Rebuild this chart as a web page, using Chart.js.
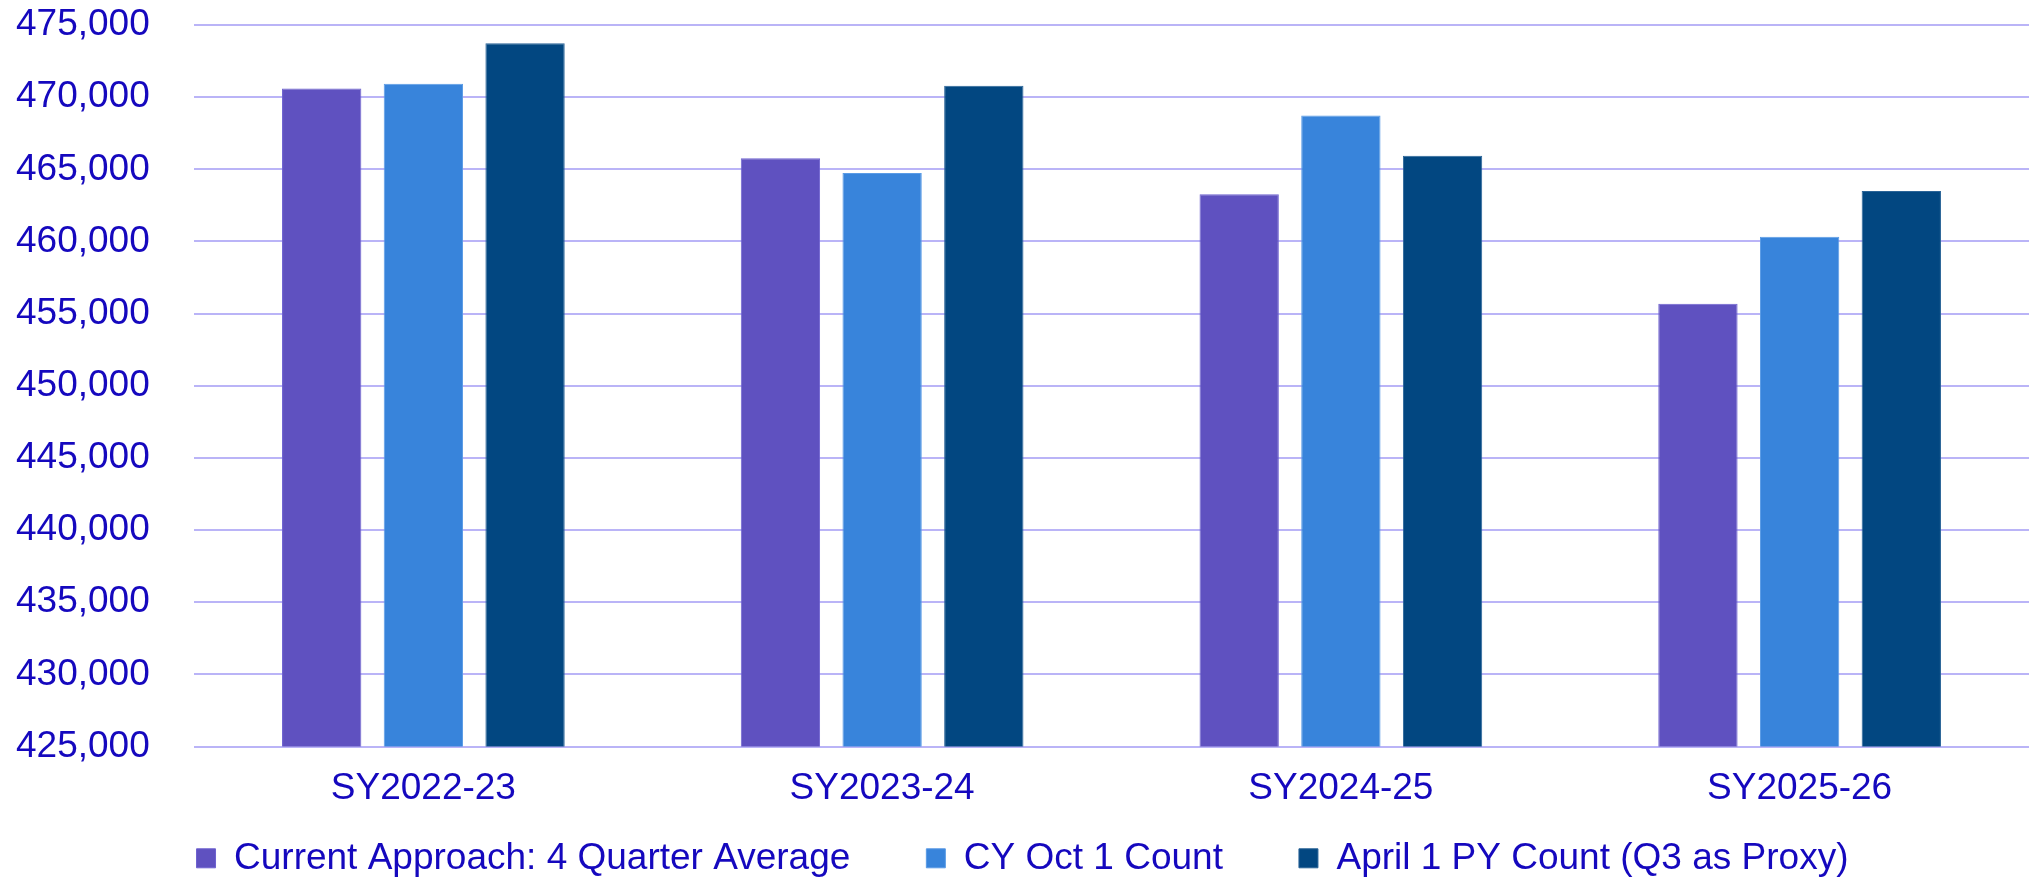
<!DOCTYPE html>
<html>
<head>
<meta charset="utf-8">
<script src="https://cdn.jsdelivr.net/npm/chart.js@4"></script>
<style>
  html, body { margin: 0; padding: 0; background: #fff; }
  #wrap { width: 2042px; height: 878px; }
</style>
</head>
<body>
<div id="wrap"><canvas id="myChart"></canvas></div>
<script>
const categories = ["SY2022-23", "SY2023-24", "SY2024-25", "SY2025-26"];
const currentApproach = [470600, 465760, 463280, 455690];
const cyOct1 = [470930, 464740, 468730, 460330];
const april1PY = [473740, 470790, 465940, 463490];
const seriesNames = ["Current Approach: 4 Quarter Average", "CY Oct 1 Count", "April 1 PY Count (Q3 as Proxy)"];

const textColor = "#1508BE";
const gridColor = "#BAB4F7";
const font = { family: "'Liberation Sans', Arial, sans-serif", size: 37 };

// legend padding is used both across and down; keep the wide gap between
// items but give the legend box only the height it really needs
const legendGap = 76;
const legendHeight = 47;
const legendTextY = 862;
const legendTight = {
  id: "legendTight",
  beforeLayout(chart) {
    const lg = chart.legend;
    if (lg && !lg._tight) {
      const fit = lg.fit.bind(lg);
      lg.fit = function () {
        fit();
        this.height = legendHeight;
      };
      lg._tight = true;
    }
  },
  afterLayout(chart) {
    const lg = chart.legend;
    // items are drawn at top + padding, so move only the top edge up
    lg.top = legendTextY - font.size * 0.6 - legendGap;
  },
};

const ctx = document.getElementById("myChart");

new Chart(ctx, {
  type: "bar",
  data: {
    labels: categories,
    datasets: [
      {
        label: seriesNames[0],
        data: currentApproach,
        backgroundColor: "#5F51C0",
        borderColor: "#6E62D0",
        borderWidth: 1,
      },
      {
        label: seriesNames[1],
        data: cyOct1,
        backgroundColor: "#3884DB",
        borderColor: "#5A9BE6",
        borderWidth: 1,
      },
      {
        label: seriesNames[2],
        data: april1PY,
        backgroundColor: "#024781",
        borderColor: "#2A6498",
        borderWidth: 1,
      },
    ],
  },
  plugins: [legendTight],
  options: {
    responsive: true,
    maintainAspectRatio: false,
    animation: false,
    datasets: {
      bar: {
        categoryPercentage: 0.665,
        barPercentage: 0.78,
      },
    },
    layout: {
      padding: { top: 25, right: 13, left: 16, bottom: 0 },
    },
    scales: {
      x: {
        grid: { display: false, drawTicks: false },
        border: { display: false },
        ticks: {
          color: textColor,
          padding: 20,
          font: font,
        },
      },
      y: {
        min: 425000,
        max: 475000,
        grid: { color: gridColor, lineWidth: 2, drawTicks: false },
        border: { display: false },
        afterFit: (scale) => { scale.width = 178; },
        ticks: {
          stepSize: 5000,
          color: textColor,
          padding: 0,
          crossAlign: "far",
          font: font,
          callback: (v) => v.toLocaleString("en-US"),
        },
      },
    },
    plugins: {
      legend: {
        position: "bottom",
        labels: {
          color: textColor,
          boxWidth: 19,
          boxHeight: 19,
          padding: legendGap,
          font: font,
        },
      },
      tooltip: { enabled: false },
    },
  },
});
</script>
</body>
</html>
